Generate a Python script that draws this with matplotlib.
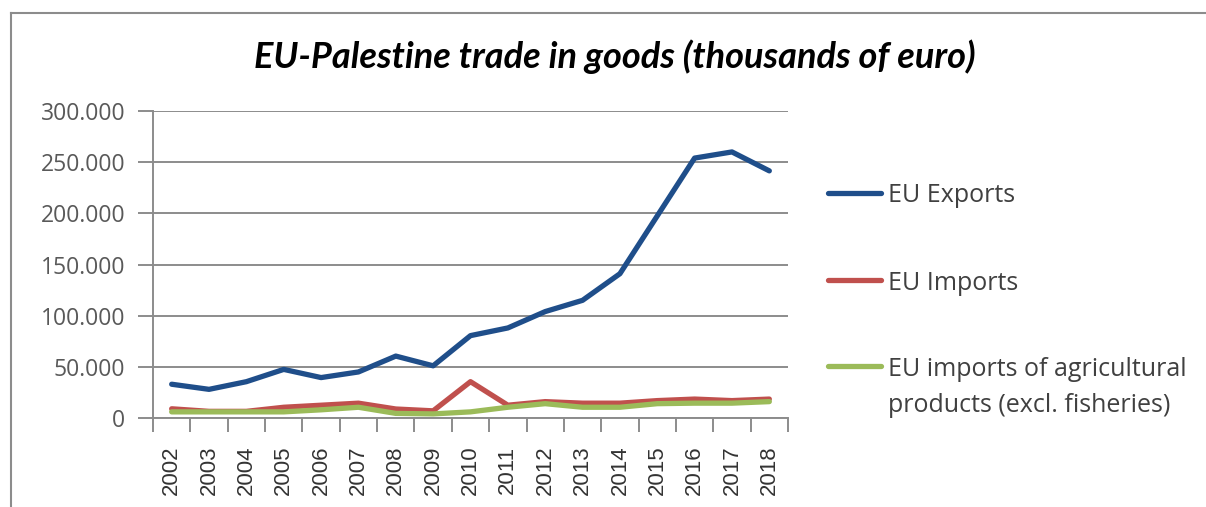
import matplotlib
matplotlib.use("Agg")
import matplotlib.pyplot as plt
from matplotlib.lines import Line2D
from matplotlib.ticker import FuncFormatter

years = [str(y) for y in range(2002, 2019)]
eu_exports = [33000, 28000, 35500, 47500, 39500, 45000, 60500, 51000, 80500,
              88000, 104000, 115000, 141000, 197500, 254000, 260000, 241500]
eu_imports = [9000, 6500, 6500, 10500, 12500, 14500, 8800, 7000, 35500,
              12500, 16000, 14500, 14500, 17000, 18500, 17000, 18500]
eu_agri = [6000, 6000, 6000, 6000, 8000, 10500, 4500, 4000, 6000,
           10500, 14000, 10500, 10500, 14000, 14500, 14500, 16000]
series_labels = ["EU Exports", "EU Imports",
                 "EU imports of agricultural\nproducts (excl. fisheries)"]
yticks = [0, 50000, 100000, 150000, 200000, 250000, 300000]
title = "EU-Palestine trade in goods (thousands of euro)"

colors = ["#1F4E8A", "#C0504D", "#9BBB59"]
grid_c = "#8C8C8C"

W, H = 1206, 507
fig = plt.figure(figsize=(W / 100, H / 100), dpi=100)
ax = fig.add_axes([153 / W, 1 - 418 / H, (788 - 153) / W, (418 - 111) / H])

x = list(range(len(years)))
for vals, c in zip([eu_exports, eu_imports, eu_agri], colors):
    ax.plot(x, vals, color=c, lw=3.8, solid_capstyle="round", solid_joinstyle="round", zorder=3)

ax.set_xlim(-0.5, len(years) - 0.5)
ax.set_ylim(0, 300000)
ax.set_yticks(yticks)
ax.yaxis.set_major_formatter(FuncFormatter(lambda v, p: "0" if v == 0 else f"{int(v):,}".replace(",", ".")))
ax.grid(axis="y", color=grid_c, lw=1.4, zorder=0)
ax.set_axisbelow(True)

ax.set_xticks(x)
ax.set_xticklabels(years, rotation=90, family="Liberation Sans", fontsize=16, color="#333333")
ax.set_xticks([i - 0.5 for i in range(len(years) + 1)], minor=True)
ax.tick_params(axis="x", which="major", length=0, pad=20)
ax.tick_params(axis="x", which="minor", length=10, width=1.4, color=grid_c, direction="out")
ax.tick_params(axis="y", length=11, width=1.4, color=grid_c, pad=9, labelsize=16.5, labelcolor="#595959")
for lab in ax.get_yticklabels():
    lab.set_family("Open Sans")

for s in ["top", "right"]:
    ax.spines[s].set_visible(False)
for s in ["left", "bottom"]:
    ax.spines[s].set_color(grid_c)
    ax.spines[s].set_linewidth(1.4)

fig.text(615 / W, 1 - 57 / H, title, ha="center", va="center", family="Lato",
         fontsize=26, fontweight="bold", fontstyle="italic", color="black")

# Legend
leg_y = [193, 280, 366]
line_gap = 37
for lab, c, yy in zip(series_labels, colors, leg_y):
    fig.add_artist(Line2D([828 / W, 881 / W], [1 - yy / H, 1 - yy / H], color=c, lw=3.8,
                          solid_capstyle="round", transform=fig.transFigure))
    for k, part in enumerate(lab.split("\n")):
        fig.text(888 / W, 1 - (yy + k * line_gap) / H, part, ha="left", va="center_baseline",
                 family="Open Sans", fontsize=18, color="#404040")

# Outer border
fig.add_artist(Line2D([11 / W, 11 / W], [0, 1 - 13 / H], color="#8C8C8C", lw=1.5, transform=fig.transFigure))
fig.add_artist(Line2D([11 / W, 1], [1 - 13 / H, 1 - 13 / H], color="#8C8C8C", lw=1.5, transform=fig.transFigure))

fig.savefig("out.png", dpi=100)
